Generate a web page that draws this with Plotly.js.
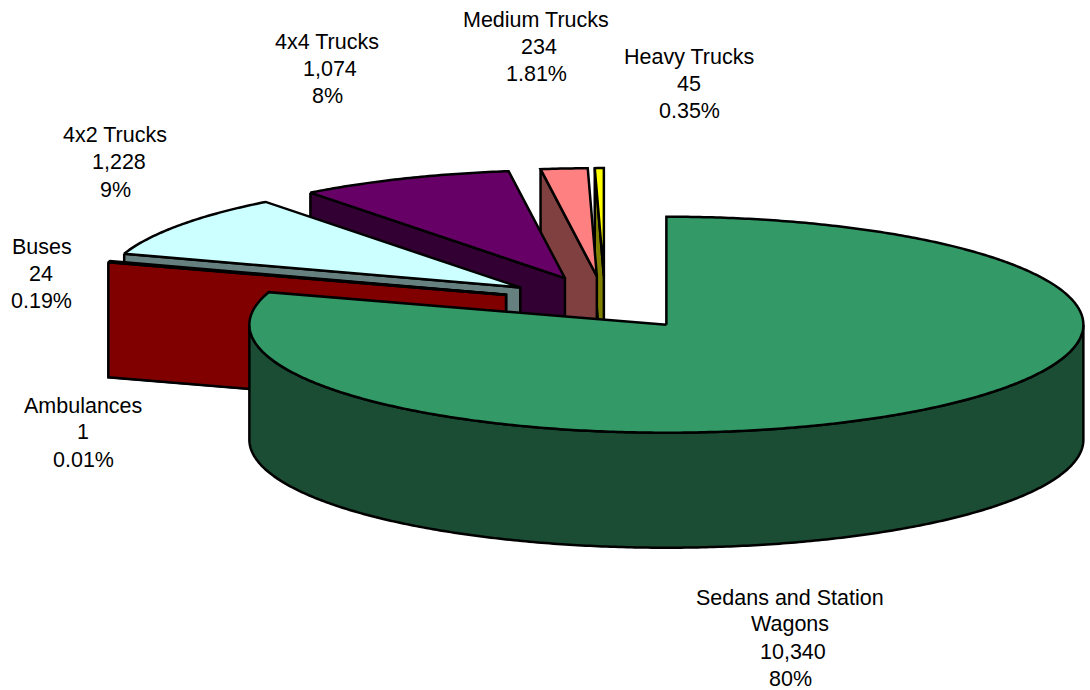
<!DOCTYPE html>
<html>
<head>
<meta charset="utf-8">
<script src="https://cdn.plot.ly/plotly-3.0.1.min.js"></script>
<style>html,body{margin:0;padding:0;background:#fff}#chart{width:1090px;height:690px}</style>
</head>
<body>
<div id="chart"></div>
<script>
const categories = ["Sedans and Station Wagons","Ambulances","Buses","4x2 Trucks","4x4 Trucks","Medium Trucks","Heavy Trucks"];
const vehicleCounts = [10340,1,24,1228,1074,234,45];
const topColors = ["#339966","#ff0000","#ff0000","#ccffff","#660066","#ff8080","#ffff00"];
const sideColors = ["#1a4d33","#800000","#800000","#668080","#330033","#804040","#808000"];
const drawOrder = [6,5,4,3,2,1,0];

const labelRows = [
  {lines:["Medium Trucks","234","1.81%"],cx:[536,539,536],cy:[20,47,74]},
  {lines:["Heavy Trucks","45","0.35%"],cx:[689,689,689],cy:[57,84,111]},
  {lines:["4x4 Trucks","1,074","8%"],cx:[327,330,327],cy:[42,69,96]},
  {lines:["4x2 Trucks","1,228","9%"],cx:[115,119,115],cy:[135,162,190]},
  {lines:["Buses","24","0.19%"],cx:[42,41,41],cy:[247,274,301]},
  {lines:["Ambulances","1","0.01%"],cx:[83,83,83],cy:[406,432,460]},
  {lines:["Sedans and Station","Wagons","10,340","80%"],cx:[790,790,793,790],cy:[598,624,652,679]}
];

const W = 1090, H = 690;
const pieCx = 605, pieCy = 303, pieR = 417;
const tilt = 108/417, depth = 115/417, explode = 0.249;
const total = vehicleCounts.reduce((a,b)=>a+b,0);

let acc = 0;
const slices = vehicleCounts.map(v=>{
  const a0 = acc/total*2*Math.PI; acc += v;
  const a1 = acc/total*2*Math.PI;
  const m = (a0+a1)/2;
  return {a0,a1,cx:explode*Math.sin(m),cy:explode*tilt*Math.cos(m)};
});
const rim = (s,a,drop=0)=>[s.cx+Math.sin(a), s.cy+tilt*Math.cos(a)-drop];
function arc(s,a0,a1,drop=0){
  const n = Math.max(2,Math.ceil(Math.abs(a1-a0)/0.01));
  const out=[]; for(let i=0;i<=n;i++) out.push(rim(s,a0+(a1-a0)*i/n,drop));
  return out;
}
const poly=(pts,fill)=>({
  type:"scatter",mode:"lines",x:pts.map(p=>p[0]),y:pts.map(p=>p[1]),
  fill:"toself",fillcolor:fill,line:{color:"#000",width:2.5,simplify:false},
  hoverinfo:"skip",showlegend:false
});

const traces=[];
drawOrder.forEach(i=>{
  const s=slices[i];
  const apex=[s.cx,s.cy], apexLow=[s.cx,s.cy-depth];
  // radial face under the slice's first edge, when it looks toward the viewer
  if(Math.sin(s.a0)<0 && Math.cos(s.a0)>0){
    const o=rim(s,s.a0), oLow=rim(s,s.a0,depth);
    traces.push(poly([o,apex,apexLow,oLow,o],sideColors[i]));
  }
  // outer wall on the front half of the ellipse
  const w0=Math.max(s.a0,Math.PI/2), w1=Math.min(s.a1,3*Math.PI/2);
  if(w1>w0){
    const top=arc(s,w0,w1), low=arc(s,w1,w0,depth);
    traces.push(poly([...top,...low,top[0]],sideColors[i]));
  }
  traces.push(poly([apex,...arc(s,s.a0,s.a1),apex],topColors[i]));
});

const annotations=[];
labelRows.forEach(r=>r.lines.forEach((t,j)=>annotations.push({
  text:t,xref:"paper",yref:"paper",x:r.cx[j]/W,y:1-r.cy[j]/H,
  xanchor:"center",yanchor:"middle",showarrow:false,
  font:{family:"Liberation Sans, Arial, sans-serif",size:21.5,color:"#000"}
})));

Plotly.newPlot("chart",traces,{
  width:W,height:H,margin:{l:0,r:0,t:0,b:0},
  paper_bgcolor:"#fff",plot_bgcolor:"#fff",showlegend:false,
  xaxis:{visible:false,range:[-pieCx/pieR,(W-pieCx)/pieR],fixedrange:true},
  yaxis:{visible:false,range:[-(H-pieCy)/pieR,pieCy/pieR],fixedrange:true},
  annotations
},{displayModeBar:false,responsive:false});
</script>
</body>
</html>
